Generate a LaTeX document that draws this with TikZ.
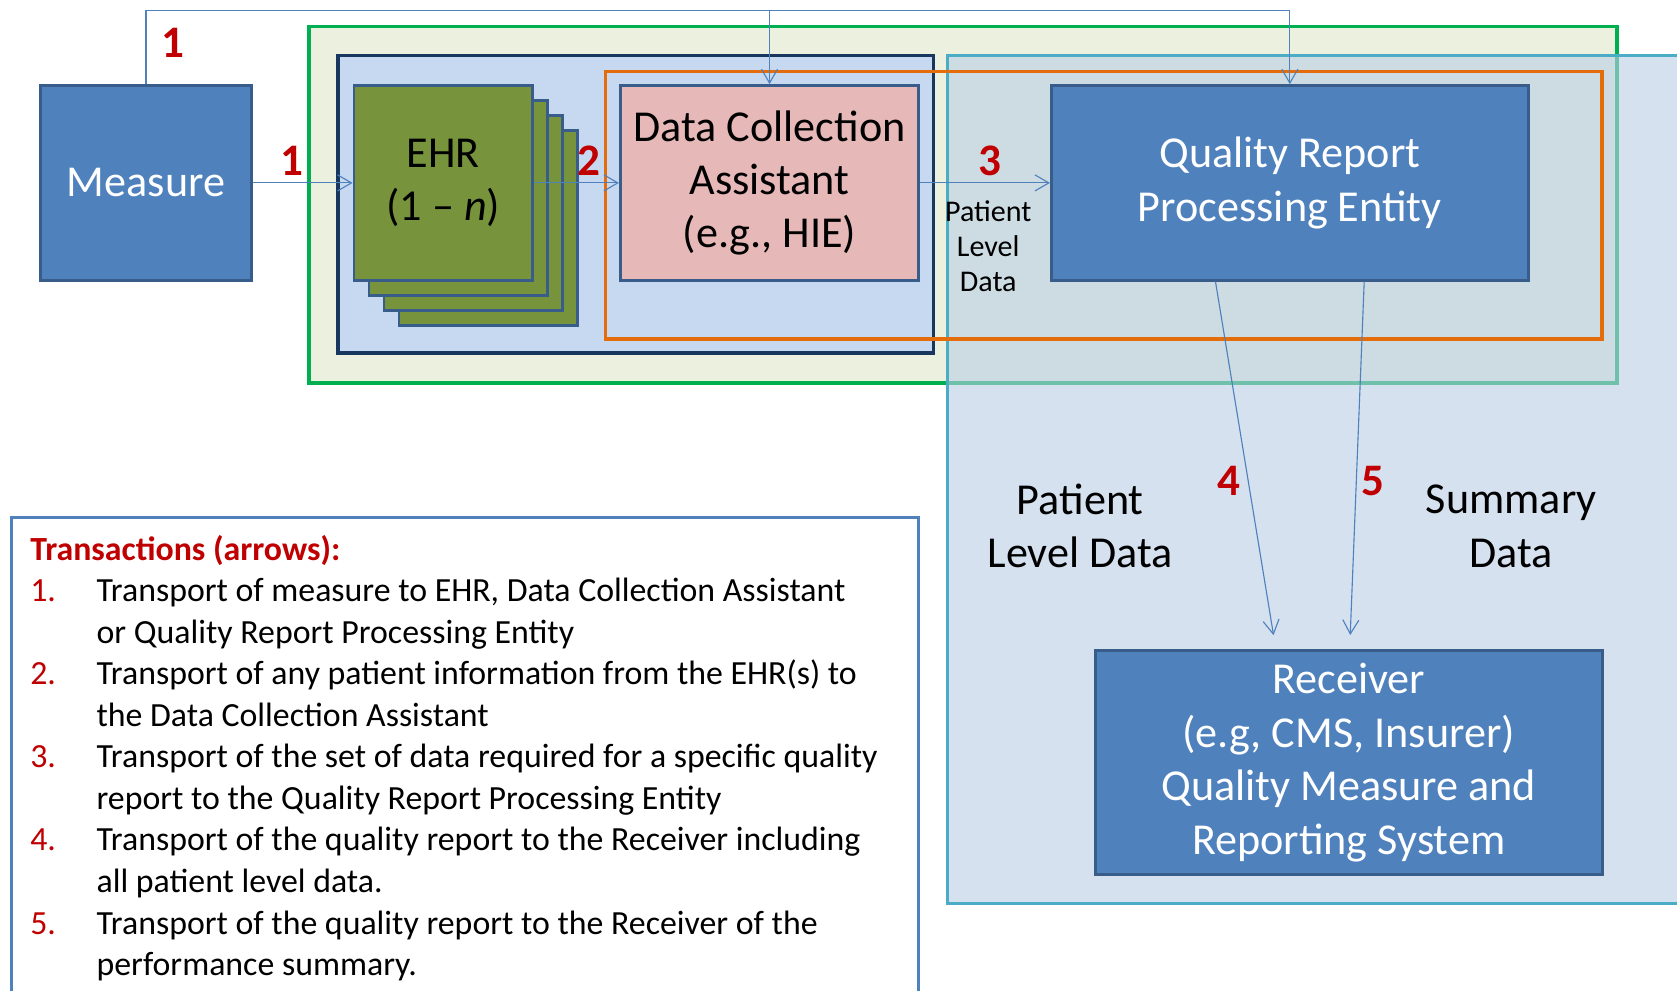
\documentclass[tikz,border=0pt]{standalone}
\usepackage{fontspec}
\setmainfont{Carlito}
\usetikzlibrary{arrows.meta, positioning, calc}
\definecolor{boxblue}{HTML}{4F81BD}
\definecolor{boxedge}{HTML}{385D8A}
\definecolor{ehrgreen}{HTML}{77933C}
\definecolor{dcapink}{HTML}{E6B9B8}
\definecolor{frgreen}{HTML}{00B050}
\definecolor{frgreenfill}{HTML}{EBF1DE}
\definecolor{frnavy}{HTML}{17375E}
\definecolor{frnavyfill}{HTML}{C6D9F1}
\definecolor{frorange}{HTML}{E46C0A}
\definecolor{frteal}{HTML}{4BACC6}
\definecolor{frtealfill}{HTML}{B9CDE5}
\definecolor{txred}{HTML}{C00000}
\newcommand\txnum[1]{\makebox[1.24cm][l]{\color{txred}#1}}

\begin{document}
\begin{tikzpicture}[x=0.02cm, y=-0.02cm,
    box/.style={draw=boxedge, line width=1.5pt, fill=boxblue, text=white, align=center, minimum height=3.64cm, font=\fontsize{23.5}{28.4}\selectfont, inner sep=0pt},
    card/.style={box, fill=ehrgreen, text=black, minimum width=3.34cm},
    frame/.style={line width=1.8pt},
    arr/.style={-{Straight Barb[length=2.6mm, width=3mm]}, draw=boxblue, line width=0.6pt},
    num/.style={text=txred, font=\fontsize{24}{28}\selectfont\bfseries, inner sep=0pt},
    note/.style={align=center, font=\fontsize{23.5}{28.4}\selectfont}
  ]
  \useasboundingbox (0,0) rectangle (1568,926);
  \draw[frame, draw=frgreen, fill=frgreenfill] (289,25) rectangle (1512,358);
  \draw[frame, draw=frnavy, fill=frnavyfill] (316,52) rectangle (873,330);
  \node[box, minimum width=3.94cm] (measure) at (136.5,171) {Measure};
  \foreach \i in {3,2,1}
    \node[card] (ehr\i) at ({414.5+14*\i},{171+14*\i}) {};
  \node[card] (ehr) at (414.5,171) {EHR\\(1 – \textit{n})};
  \node[box, fill=dcapink, text=black, minimum width=5.58cm] (dca) at (719.5,171) {Data Collection\\Assistant\\(e.g., HIE)};
  \draw[frame, draw=frteal, fill=frtealfill, fill opacity=0.6] (886,52) rectangle (1600,845);
  \draw[frame, draw=frorange] (566,67) rectangle (1498,317);
  \node[box, minimum width=8.92cm] (qrpe) at (1206,171) {Quality Report\\Processing Entity};
  \node[box, minimum width=9.48cm, minimum height=4.2cm] (rcv) at (1261,713) {Receiver\\(e.g, CMS, Insurer)\\Quality Measure and\\Reporting System};

  \coordinate (top) at (136,10);
  \draw[arr] (measure.north) |- (qrpe.north |- top) -- (qrpe.north);
  \draw[arr] (dca.north |- top) -- (dca.north);
  \draw[arr] (measure) -- (ehr);
  \draw[arr] (ehr) -- (dca);
  \draw[arr] (dca) -- (qrpe);
  \draw[arr, shorten >=0.26cm] ($(qrpe.south west)!0.345!(qrpe.south east)$) -- ($(rcv.north west)!0.357!(rcv.north east)$);
  \draw[arr, shorten >=0.26cm] ($(qrpe.south west)!0.655!(qrpe.south east)$) -- ($(rcv.north west)!0.502!(rcv.north east)$);

  \node[num] (n1a) at (162,40) {1};
  \node[num] (n1b) at (273,150) {1};
  \node[num] (n2) at (551,150) {2};
  \node[num] (n3) at (926,150) {3};
  \node[num] (n4) at (1149,450) {4};
  \node[num] (n5) at (1284,450) {5};
  \node[align=center, font=\fontsize{16}{18.7}\selectfont] (pld) at (924,230) {Patient\\Level\\Data};
  \node[note] (plabel) at (1010,492) {Patient\\Level Data};
  \node[note] (slabel) at (1413,492) {Summary\\Data};

  \draw[line width=1.4pt, draw=boxblue] (11,940) -- (11,484) -- (859,484) -- (859,940);
  \node[anchor=north west, align=left, inner sep=0pt, font=\fontsize{18}{22.1}\selectfont] (trans) at (28,500) {%
    {\color{txred}\bfseries Transactions (arrows):}\\
    \txnum{1.}Transport of measure to EHR, Data Collection Assistant\\
    \hspace*{1.24cm}or Quality Report Processing Entity\\
    \txnum{2.}Transport of any patient information from the EHR(s) to\\
    \hspace*{1.24cm}the Data Collection Assistant\\
    \txnum{3.}Transport of the set of data required for a specific quality\\
    \hspace*{1.24cm}report to the Quality Report Processing Entity\\
    \txnum{4.}Transport of the quality report to the Receiver including\\
    \hspace*{1.24cm}all patient level data.\\
    \txnum{5.}Transport of the quality report to the Receiver of the\\
    \hspace*{1.24cm}performance summary.};
\end{tikzpicture}
\end{document}
